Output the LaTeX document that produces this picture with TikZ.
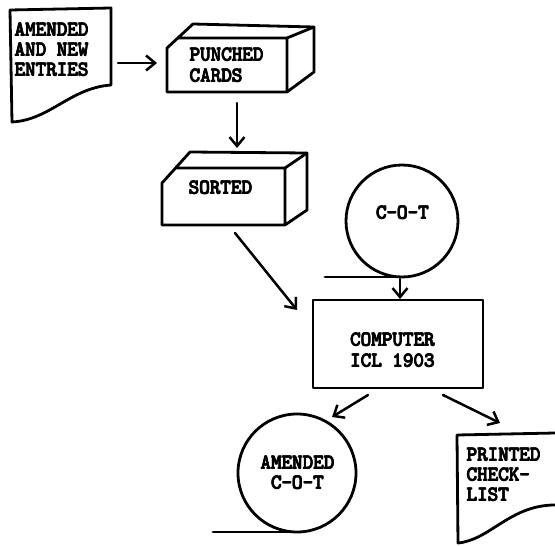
\documentclass[tikz,border=0pt]{standalone}
\usepackage{fontspec}
\newfontfamily\typer{Latin Modern Mono}
% heavy typewriter strokes: the same word inked several times, slightly offset
\newcommand\inkat[3]{\makebox[0pt][l]{\kern#1\raisebox{#2}[0pt][0pt]{#3}}}
\newcommand\heavy[1]{\inkat{0.9pt}{0pt}{#1}\inkat{0pt}{0.9pt}{#1}\inkat{0.9pt}{0.9pt}{#1}\inkat{0.45pt}{0.45pt}{#1}#1}
\usetikzlibrary{arrows.meta}
\tikzset{
  outline/.style={line width=2.8pt, line join=round, line cap=round},
  flow/.style={line width=2.5pt, line cap=round, -{Straight Barb[length=9pt,width=15pt,line width=2.5pt]}},
  label/.style={font=\typer\fontsize{20.5}{22}\selectfont, inner sep=0pt, text depth=0pt},
  lefttext/.style={label, anchor=west},
}
\begin{document}
\begin{tikzpicture}[x=1pt,y=-1pt]
\useasboundingbox (0,0) rectangle (555,546);

% source document
\draw[outline] (10,10) -- (111,8) -- (111,85)
  .. controls (70,88) and (50,120) .. (12,122) -- cycle;
\node[lefttext] (src1) at (14,30) {\heavy{AMENDED}};
\node[lefttext] (src2) at (14,50) {\heavy{AND NEW}};
\node[lefttext] (src3) at (14,70) {\heavy{ENTRIES}};
\coordinate (srcout) at (118,63);

% punched card deck
\draw[outline] (178,38) -- (287,38) -- (287,92) -- (167,92) -- (167,48) -- (193,24) -- (314,27) -- (314,72) -- (287,92);
\draw[outline] (287,38) -- (314,27);
\node[lefttext] (pc1) at (189,55) {\heavy{PUNCHED}};
\node[lefttext] (pc2) at (189,76) {\heavy{CARDS}};
\coordinate (pcin) at (157,63);
\coordinate (pcout) at (237,103);

% sorted deck
\draw[outline] (176,168) -- (285,168) -- (285,225) -- (162,225) -- (162,183) -- (190,152) -- (307,153) -- (307,210) -- (285,225);
\draw[outline] (285,168) -- (307,153);
\node[label] (srt) at (220,188) {\heavy{SORTED}};
\coordinate (srtin) at (237,148);
\coordinate (srtout) at (235,233);

% master tape
\draw[outline] (402,221) circle[radius=56pt];
\draw[outline] (325,277) -- (402,277);
\node[label] (cot) at (402,213) {\heavy{C–O–T}};
\coordinate (cotout) at (400,279);

% computer
\draw[outline] (313,300) rectangle (483,388);
\node[label] (cpu1) at (392,340) {\heavy{COMPUTER}};
\node[label] (cpu2) at (392,361) {\heavy{ICL 1903}};
\coordinate (cpuin1) at (297,310);
\coordinate (cpuin2) at (400,299);
\coordinate (cpuout1) at (368,395);
\coordinate (cpuout2) at (443,395);

% amended tape
\draw[outline] (297,473) circle[radius=59pt];
\draw[outline] (213,532) -- (297,532);
\node[label] (new1) at (297,463) {\heavy{AMENDED}};
\node[label] (new2) at (297,483) {\heavy{C–O–T}};
\coordinate (newin) at (332,417);

% printed checklist
\draw[outline] (555,433) -- (457,435) -- (458,543)
  .. controls (490,540) and (510,505) .. (555,505);
\node[lefttext] (prt1) at (466,455) {\heavy{PRINTED}};
\node[lefttext] (prt2) at (466,475) {\heavy{CHECK-}};
\node[lefttext] (prt3) at (466,495) {\heavy{LIST}};
\coordinate (prtin) at (500,423);

% flow of data
\draw[flow] (srcout) -- (pcin);
\draw[flow] (pcout) -- (srtin);
\draw[flow] (srtout) -- (cpuin1);
\draw[flow] (cotout) -- (cpuin2);
\draw[flow] (cpuout1) -- (newin);
\draw[flow] (cpuout2) -- (prtin);
\end{tikzpicture}
\end{document}
